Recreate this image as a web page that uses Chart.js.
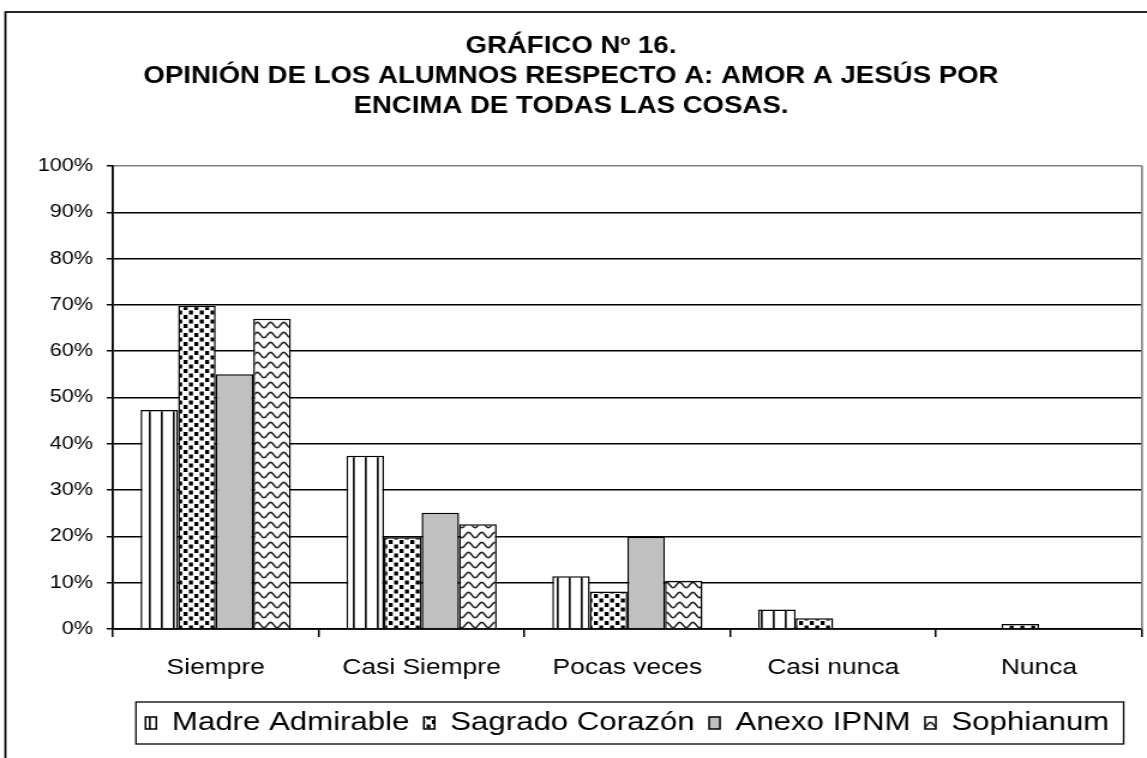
<!DOCTYPE html>
<html><head><meta charset="utf-8">
<script src="https://cdn.jsdelivr.net/npm/chart.js@4"></script>
<style>
html,body{margin:0;padding:0;background:#fff;overflow:hidden;}
#wrap{width:1147px;height:758px;overflow:hidden;position:relative;background:#fff;}
#c{position:absolute;left:0;top:0;transform-origin:0 0;transform:scaleX(1.19979);}
</style></head><body>
<div id="wrap"><canvas id="c" width="956" height="758" style="width:956px;height:758px"></canvas></div>
<script>
const titleLines = ['GRÁFICO Nº 16.', 'OPINIÓN DE LOS ALUMNOS RESPECTO A: AMOR A JESÚS POR', 'ENCIMA DE TODAS LAS COSAS.'];
const categories = ['Siempre', 'Casi Siempre', 'Pocas veces', 'Casi nunca', 'Nunca'];
const seriesNames = ['Madre Admirable', 'Sagrado Corazón', 'Anexo IPNM', 'Sophianum'];
const madreAdmirable = [47.3, 37.4, 11.4, 4.2, 0];
const sagradoCorazon = [69.8, 19.8, 8.1, 2.3, 1.1];
const anexoIPNM = [55.0, 25.1, 20.0, 0, 0];
const sophianum = [67.0, 22.6, 10.4, 0, 0];
const yTickLabels = ['0%', '10%', '20%', '30%', '40%', '50%', '60%', '70%', '80%', '90%', '100%'];

const FAMILY = "'Liberation Sans', Arial, sans-serif";
const canvas = document.getElementById('c');
const ctx = canvas.getContext('2d');

function tile(w, h, draw) {
  const c = document.createElement('canvas');
  c.width = w; c.height = h;
  const g = c.getContext('2d');
  g.fillStyle = '#fff';
  g.fillRect(0, 0, w, h);
  draw(g);
  return ctx.createPattern(c, 'repeat');
}
const stripePattern = tile(10, 10, g => {
  g.fillStyle = '#111';
  g.fillRect(4, 0, 1.7, 10);
});
const dotPattern = tile(9, 9, g => {
  g.fillStyle = '#000';
  g.fillRect(0, 0, 3.3, 4);
  g.fillRect(4.5, 4.5, 3.3, 4);
});
const wavePattern = tile(11, 10, g => {
  g.strokeStyle = '#222';
  g.lineWidth = 1.6;
  g.beginPath();
  for (let x = -1; x <= 12; x += 0.5) {
    const y = 5 + 2.6 * Math.cos(2 * Math.PI * x / 11);
    if (x === -1) g.moveTo(x, y); else g.lineTo(x, y);
  }
  g.stroke();
});

const framePlugin = {
  id: 'frame',
  afterDraw(chart) {
    const c = chart.ctx;
    const a = chart.chartArea;
    c.save();
    // plot area gray right border
    c.strokeStyle = '#808080';
    c.lineWidth = 1.7;
    c.beginPath();
    c.moveTo(a.right, a.top);
    c.lineTo(a.right, a.bottom);
    c.stroke();
    // outer frame
    c.strokeStyle = '#000';
    c.lineWidth = 1.7;
    c.strokeRect(4.5, 12, 1200, 1200);
    // legend box
    const lg = chart.legend;
    const hb = lg.legendHitBoxes;
    if (hb && hb.length) {
      const l = Math.min(...hb.map(h => h.left)) - 8;
      const r = Math.max(...hb.map(h => h.left + h.width)) + 12;
      const cy = hb[0].top + hb[0].height / 2;
      c.lineWidth = 1.3;
      c.strokeRect(l, cy - 21, r - l, 42);
    }
    c.restore();
  }
};

const fills = [stripePattern, dotPattern, '#C0C0C0', wavePattern];
const values = [madreAdmirable, sagradoCorazon, anexoIPNM, sophianum];

new Chart(canvas, {
  type: 'bar',
  data: {
    labels: categories,
    datasets: seriesNames.map((n, i) => ({
      label: n,
      data: values[i],
      backgroundColor: fills[i],
      borderColor: '#000',
      borderWidth: 1.5,
      categoryPercentage: 0.73,
      barPercentage: 1.0
    }))
  },
  options: {
    responsive: false,
    animation: false,
    devicePixelRatio: 1,
    layout: { padding: { left: 0, right: 4.2, top: 0, bottom: 12 } },
    plugins: {
      title: {
        display: true,
        text: titleLines,
        color: '#000',
        font: { size: 23, weight: 'bold', family: FAMILY, lineHeight: 30 / 23 },
        padding: { top: 32, bottom: 44 }
      },
      legend: {
        position: 'bottom',
        fullSize: false,
        labels: {
          boxWidth: 9,
          boxHeight: 12,
          padding: 12,
          color: '#000',
          font: { size: 26, family: FAMILY }
        }
      },
      tooltip: { enabled: false }
    },
    scales: {
      x: {
        ticks: { color: '#000', font: { size: 22, family: FAMILY }, padding: 18 },
        grid: { drawOnChartArea: false, drawTicks: true, tickLength: 8, color: '#000', lineWidth: 1.5, offset: true },
        border: { color: '#000', width: 1.8 },
        afterFit(s) { s.height = 69; }
      },
      y: {
        min: 0,
        max: 100,
        ticks: {
          stepSize: 10,
          color: '#000',
          font: { size: 18, family: FAMILY },
          padding: 11.5,
          callback: (v, i) => yTickLabels[i]
        },
        grid: {
          color: c => (c.tick && c.tick.value === 100 ? '#808080' : '#000'),
          lineWidth: 1.5,
          tickLength: 5,
          tickColor: '#000',
          drawTicks: true
        },
        border: { color: '#000', width: 1.8 },
        afterFit(s) { s.width = 94; }
      }
    }
  },
  plugins: [framePlugin]
});
</script>
</body></html>
